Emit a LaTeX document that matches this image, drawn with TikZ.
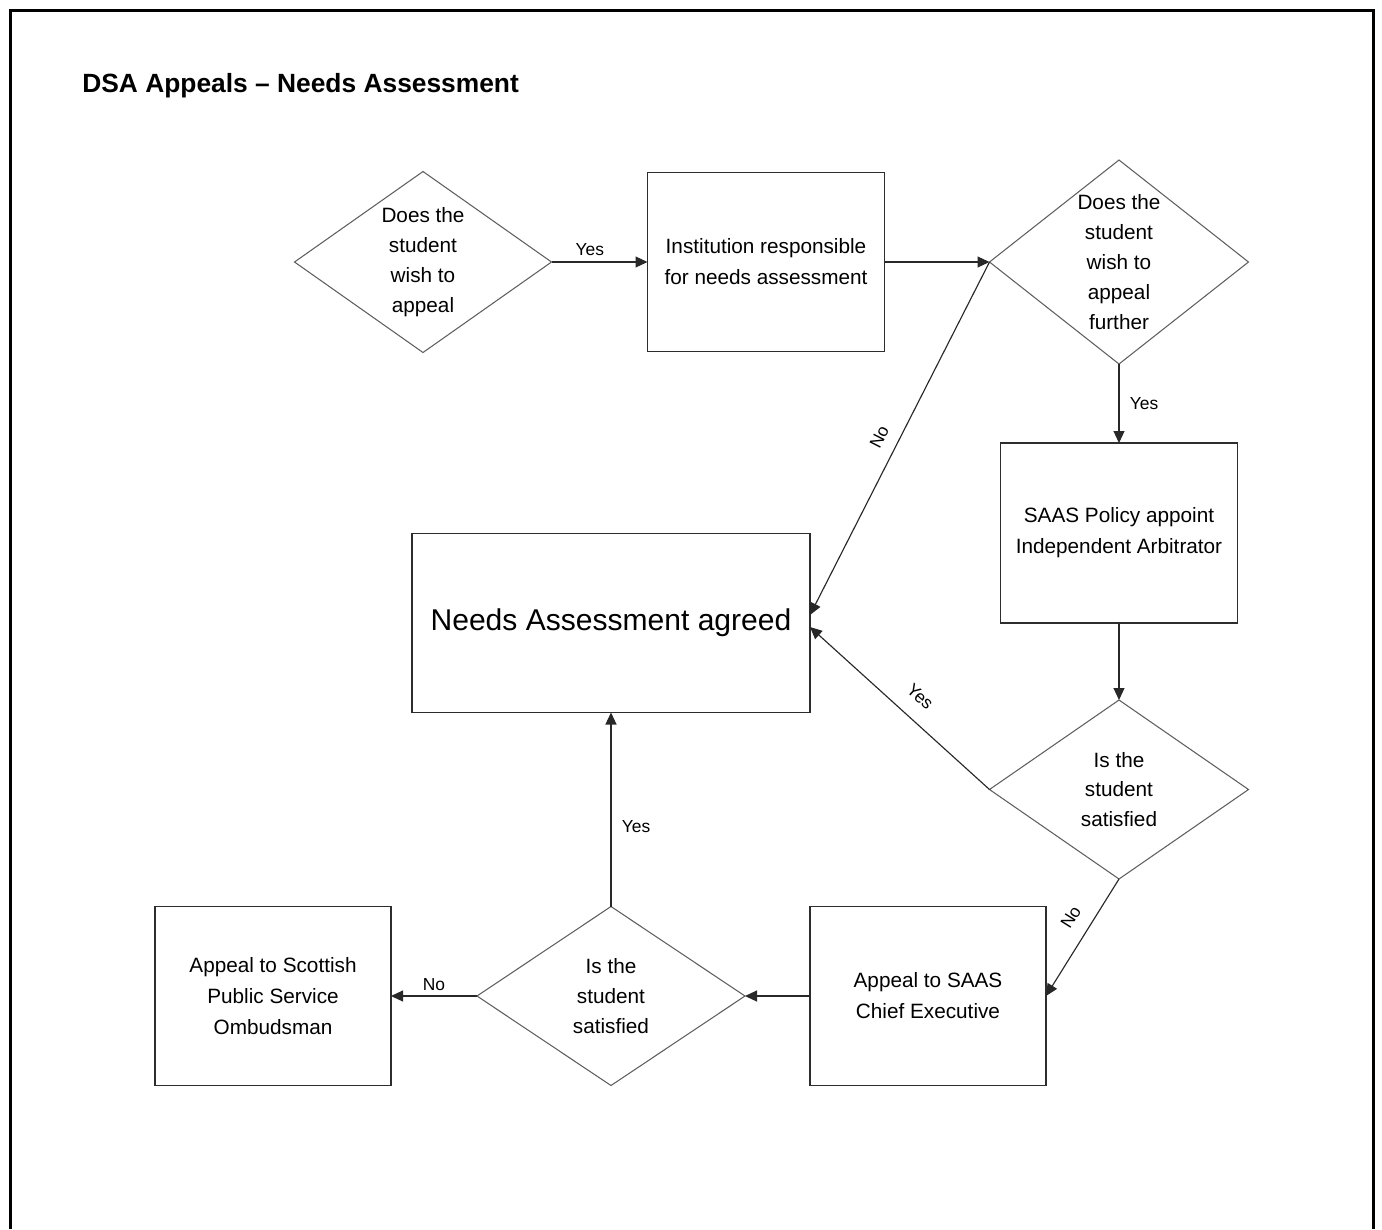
\documentclass[tikz,border=0pt]{standalone}
\usepackage{fontspec}
\setsansfont{Liberation Sans}
\usetikzlibrary{positioning}
\usetikzlibrary{arrows.meta}
\usetikzlibrary{shapes.geometric}
\definecolor{figBorde}{RGB}{45,45,45}
\definecolor{figRombo}{RGB}{95,95,95}
\definecolor{figFlecha}{RGB}{40,40,40}
\definecolor{figMarco}{RGB}{0,0,0}
\tikzset{
  process/.style={
    rectangle, draw=figBorde, line width=0.8pt, fill=white,
    minimum width=4.74cm, minimum height=3.58cm, inner sep=2pt, outer sep=0pt,
    align=center, font=\sffamily\fontsize{11.8}{17.6}\selectfont
  },
  decision/.style={
    diamond, draw=figRombo, line width=0.6pt, fill=white,
    inner sep=0pt, outer sep=0pt, minimum width=5.18cm, minimum height=3.58cm
  },
  dtext/.style={
    align=center, inner sep=0pt, font=\sffamily\fontsize{11.8}{17}\selectfont
  },
  link/.style={-{Triangle[length=0.24cm, width=0.22cm]}, line width=0.65pt, draw=figFlecha},
  tag/.style={font=\sffamily\fontsize{9.9}{12}\selectfont, inner sep=3pt}
}
\begin{document}
\begin{tikzpicture}
  \useasboundingbox (0,0) rectangle (27.64,-24.58);
  \draw[figMarco, line width=0.06cm] (0.21,-24.58) -- (0.21,-0.21) -- (27.47,-0.21) -- (27.47,-24.58);

  \node[anchor=west, inner sep=0pt, font=\sffamily\bfseries\fontsize{15}{18}\selectfont] (title) at (1.64,-1.72) {DSA Appeals -- Needs Assessment};

  % top row
  \node[decision, minimum width=5.14cm, minimum height=3.62cm,
        label={[dtext]center:Does the\\student\\wish to\\appeal}] (wish) at (8.46,-5.24) {};
  \node[process, right=1.92cm of wish] (inst) {Institution responsible\\for needs assessment};
  \node[decision, minimum height=4.08cm, right=2.1cm of inst,
        label={[dtext]center:Does the\\student\\wish to\\appeal\\further}] (further) {};

  % right column
  \node[process, minimum height=3.6cm, below=1.58cm of further] (policy) {SAAS Policy appoint\\Independent Arbitrator};
  \node[decision, below=1.54cm of policy,
        label={[dtext]center:Is the\\student\\satisfied}] (satisf) {};

  % bottom row
  \node[process, minimum width=4.72cm] (chief) at (18.56,-19.92) {Appeal to SAAS\\Chief Executive};
  \node[decision, minimum width=5.36cm, left=1.3cm of chief,
        label={[dtext]center:Is the\\student\\satisfied}] (again) {};
  \node[process, minimum width=4.72cm, left=1.72cm of again] (ombuds) {Appeal to Scottish\\Public Service\\Ombudsman};

  \node[process, minimum width=7.96cm, above=3.88cm of again,
        font=\sffamily\fontsize{17.1}{20}\selectfont] (agreed) {Needs Assessment agreed};

  \draw[link] (wish) -- node[tag, above, pos=0.4] {Yes} (inst);
  \draw[link] (inst) -- (further);
  \draw[link] (further.west) -- node[tag, sloped, above=4pt, pos=0.52] {No} ([yshift=0.16cm]agreed.east);
  \draw[link] (further) -- node[tag, right, xshift=0.1cm] {Yes} (policy);
  \draw[link] (policy) -- (satisf);
  \draw[link] (satisf.west) -- node[tag, sloped, above=6pt, pos=0.47] {Yes} ([yshift=-0.08cm]agreed.east);
  \draw[link] (satisf.south) -- node[tag, sloped, above=5pt, pos=0.42] {No} (chief.east);
  \draw[link] (chief) -- (again);
  \draw[link] (again) -- node[tag, above] {No} (ombuds);
  \draw[link] (again) -- node[tag, right, pos=0.41, xshift=0.1cm] {Yes} (agreed);
\end{tikzpicture}
\end{document}
